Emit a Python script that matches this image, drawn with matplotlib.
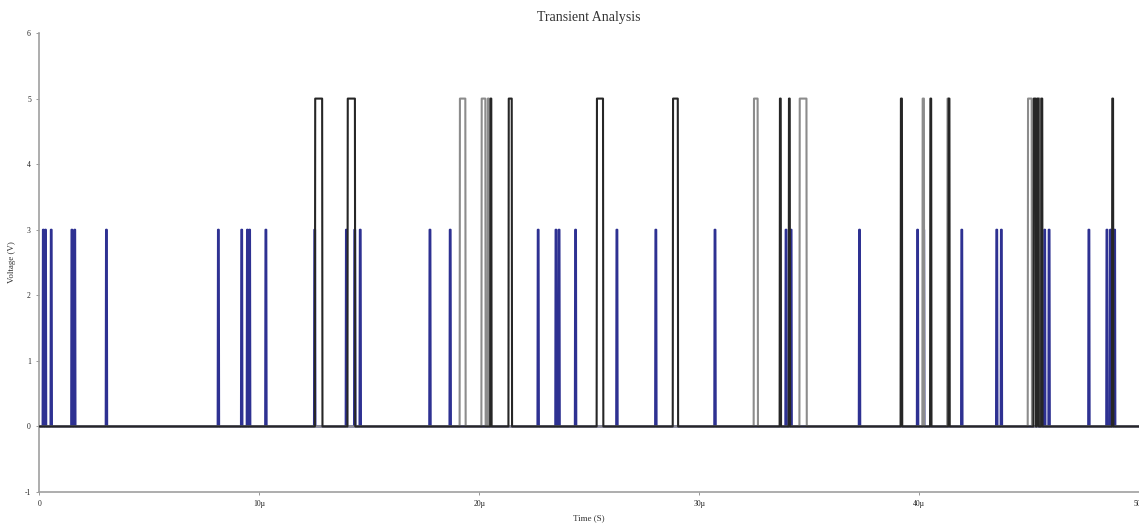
import matplotlib
matplotlib.use("Agg")
import matplotlib.pyplot as plt

# times in microseconds
t_end = 50.0

# blue input spikes (3 V), start times
blue_spikes = [0.15, 0.25, 0.51, 1.45, 1.58, 3.02, 8.11, 9.17, 9.43, 9.53, 10.27,
               12.49, 13.93, 14.31, 14.56, 17.73, 18.65, 22.65, 23.46, 23.6, 24.35,
               26.23, 28.0, 30.69, 33.92, 34.15, 37.26, 39.9, 40.18, 41.91, 43.5,
               43.71, 45.68, 45.88, 47.69, 48.51, 48.67, 48.86]
blue_level = 3.0
blue_width = 0.05

# output pulses (5 V), (rise, fall)
gray_pulses = [(19.11, 19.37), (20.1, 20.28), (20.38, 20.44), (32.48, 32.66),
               (34.56, 34.88), (40.15, 40.22), (41.28, 41.33), (44.94, 45.12),
               (45.45, 45.5)]
black_pulses = [(12.53, 12.86), (14.01, 14.35), (20.5, 20.55), (21.33, 21.48),
                (25.34, 25.63), (28.8, 29.03), (33.66, 33.71), (34.07, 34.12),
                (39.16, 39.22), (40.5, 40.55), (41.33, 41.38), (45.2, 45.3),
                (45.35, 45.43), (45.55, 45.6), (48.77, 48.82)]
pulse_level = 5.0

y_ticks = [-1, 0, 1, 2, 3, 4, 5, 6]
x_ticks = [0, 10, 20, 30, 40, 50]
x_tick_labels = ["0", "10\u00b5", "20\u00b5", "30\u00b5", "40\u00b5", "50\u00b5"]


def step_trace(pulses, level, edge=0.015):
    t, v = [0.0], [0.0]
    for s, e in pulses:
        t += [s, s + edge, e, e + edge]
        v += [0.0, level, level, 0.0]
    t.append(t_end)
    v.append(0.0)
    return t, v


plt.rcParams["font.family"] = ["Liberation Serif", "DejaVu Serif"]
plt.rcParams["axes.unicode_minus"] = False

fig = plt.figure(figsize=(11.39, 5.24), dpi=100)
ax = fig.add_axes([0.0345, 0.061, 0.9655, 0.876])

bt, bv = step_trace([(s, s + blue_width) for s in blue_spikes], blue_level)
ax.plot(bt, bv, color="#2e3192", lw=1.5, zorder=2)

gt, gv = step_trace(gray_pulses, pulse_level)
ax.plot(gt, gv, color="#8c8c8c", lw=1.5, zorder=3)

kt, kv = step_trace(black_pulses, pulse_level)
ax.plot(kt, kv, color="#262626", lw=1.5, zorder=4)

ax.set_xlim(0, t_end)
ax.set_ylim(-1, 6)
ax.set_xticks(x_ticks)
ax.set_xticklabels(x_tick_labels)
ax.set_yticks(y_ticks)
ax.tick_params(labelsize=5.5, length=2, width=0.6, color="#888888", pad=4,
               labelcolor="#222222")
for side in ("top", "right"):
    ax.spines[side].set_visible(False)
for side in ("left", "bottom"):
    ax.spines[side].set_color("#a0a0a0")
    ax.spines[side].set_linewidth(1.2)

ax.set_title("Transient Analysis", fontsize=10, color="#333333", pad=9)
ax.set_xlabel("Time (S)", fontsize=6.5, color="#333333", labelpad=4)
ax.set_ylabel("Voltage (V)", fontsize=6.5, color="#333333", labelpad=6)

fig.savefig("out.png", dpi=100)
